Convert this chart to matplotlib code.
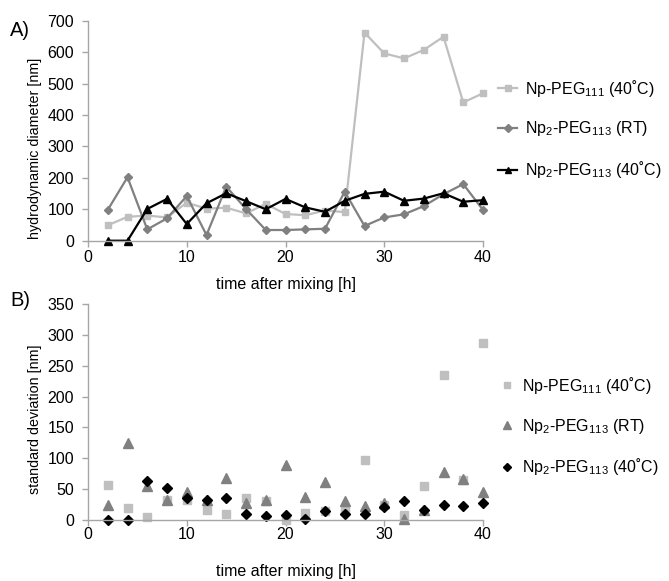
import matplotlib
matplotlib.use("Agg")
import matplotlib.pyplot as plt

plt.rcParams['font.family'] = ['Liberation Sans', 'DejaVu Sans']
plt.rcParams['mathtext.fontset'] = 'custom'
plt.rcParams['mathtext.rm'] = 'Liberation Sans'
plt.rcParams['mathtext.it'] = 'Liberation Sans'

time_h = [2, 4, 6, 8, 10, 12, 14, 16, 18, 20, 22, 24, 26, 28, 30, 32, 34, 36, 38, 40]

# Panel A: hydrodynamic diameter [nm]
dh_np_peg111_40 = [49, 76, 80, 74, 121, 102, 105, 87, 117, 85, 81, 96, 91, 662, 596, 580, 607, 649, 440, 469]
dh_np2_peg113_rt = [98, 202, 36, 71, 142, 18, 172, 101, 34, 34, 36, 38, 156, 47, 74, 84, 110, 148, 180, 98]
dh_np2_peg113_40 = [0, 0, 101, 133, 53, 119, 151, 126, 100, 133, 106, 92, 127, 149, 156, 127, 134, 151, 124, 129]

# Panel B: standard deviation [nm]
sd_np_peg111_40 = [56, 19, 5, 33, 32, 16, 9, 35, 30, 0, 12, 15, 15, 97, 25, 8, 55, 235, 65, 287]
sd_np2_peg113_rt = [25, 124, 55, 32, 45, 33, 68, 28, 33, 89, 37, 61, 30, 22, 28, 1, 17, 78, 66, 45]
sd_np2_peg113_40 = [0, 0, 63, 52, 36, 32, 36, 9, 6, 8, 1, 15, 9, 10, 21, 30, 16, 24, 22, 27]

labels = [r'Np-PEG$_{111}$ (40˚C)', r'Np$_{2}$-PEG$_{113}$ (RT)', r'Np$_{2}$-PEG$_{113}$ (40˚C)']
c_light = '#BFBFBF'
c_mid = '#808080'
c_black = '#000000'
spine_c = '#A6A6A6'

W, H = 669, 581
fig = plt.figure(figsize=(W / 100, H / 100), dpi=100)

def px_axes(l, r, t, b):
    return fig.add_axes([l / W, 1 - b / H, (r - l) / W, (b - t) / H])

axA = px_axes(88, 483, 20.7, 240.7)
axB = px_axes(88, 483, 304, 520)

fs = 11.5
fs_y = 10.3
for ax in (axA, axB):
    for s in ('top', 'right'):
        ax.spines[s].set_visible(False)
    for s in ('left', 'bottom'):
        ax.spines[s].set_color(spine_c)
        ax.spines[s].set_linewidth(1.0)
    ax.tick_params(axis='both', colors=spine_c, labelcolor='black', labelsize=fs, length=4, width=1.0, direction='out')
    ax.tick_params(axis='y', pad=6)
    ax.set_xlim(0, 40)
    ax.set_xticks([0, 10, 20, 30, 40])
axA.tick_params(axis='x', pad=3)
axB.tick_params(axis='x', pad=1)

axA.set_ylim(0, 700)
axA.set_yticks(range(0, 701, 100))
axB.set_ylim(0, 350)
axB.set_yticks(range(0, 351, 50))

axA.plot(time_h, dh_np_peg111_40, color=c_light, marker='s', ms=5, lw=1.6, label=labels[0], clip_on=False)
axA.plot(time_h, dh_np2_peg113_rt, color=c_mid, marker='D', ms=4.5, lw=1.6, label=labels[1], clip_on=False)
axA.plot(time_h, dh_np2_peg113_40, color=c_black, marker='^', ms=6, lw=1.6, label=labels[2], clip_on=False)

axB.plot(time_h, sd_np_peg111_40, color=c_light, marker='s', ms=5.5, lw=0, label=labels[0], clip_on=False)
axB.plot(time_h, sd_np2_peg113_rt, color=c_mid, marker='^', ms=7, lw=0, label=labels[1], clip_on=False)
axB.plot(time_h, sd_np2_peg113_40, color=c_black, marker='D', ms=5, lw=0, label=labels[2], clip_on=False)

axA.set_xlabel('time after mixing [h]', fontsize=fs)
axA.xaxis.set_label_coords(0.5, -(277 - 240.7) / 220)
axA.set_ylabel('hydrodynamic diameter [nm]', fontsize=fs_y)
axA.yaxis.set_label_coords(-(88 - 42) / 395, (240.7 - 148) / 220)
axB.set_xlabel('time after mixing [h]', fontsize=fs)
axB.xaxis.set_label_coords(0.5, -(564 - 520) / 216)
axB.set_ylabel('standard deviation [nm]', fontsize=fs_y)
axB.yaxis.set_label_coords(-(88 - 42) / 395, (520 - 419) / 216)

axA.legend(loc='center left', bbox_to_anchor=(498 / W, 1 - 129 / H), bbox_transform=fig.transFigure,
           frameon=False, fontsize=fs, labelspacing=1.3, handlelength=1.2, handletextpad=0.5,
           markerscale=0.8, borderaxespad=0, borderpad=0)
axB.legend(loc='center left', bbox_to_anchor=(501 / W, 1 - 426 / H), bbox_transform=fig.transFigure,
           frameon=False, fontsize=fs, labelspacing=1.3, handlelength=0.8, handletextpad=0.5,
           markerscale=0.75, borderaxespad=0, borderpad=0)

fig.text(10 / W, 1 - 30 / H, 'A)', fontsize=14.5, va='center', ha='left')
fig.text(10 / W, 1 - 300 / H, 'B)', fontsize=14.5, va='center', ha='left')

fig.savefig('out.png', dpi=100)
